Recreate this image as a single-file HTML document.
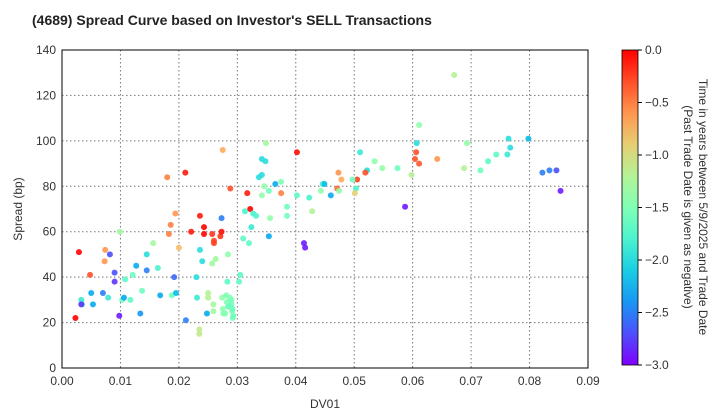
<!DOCTYPE html>
<html><head><meta charset="utf-8">
<style>
body{margin:0;background:#fff;}
svg{display:block;font-family:"Liberation Sans",Arial,sans-serif;}
</style></head>
<body>
<svg id="chart" width="720" height="420" viewBox="0 0 720 420" xmlns="http://www.w3.org/2000/svg">
<defs>
<linearGradient id="cbgrad" x1="0" y1="1" x2="0" y2="0"></linearGradient>
</defs>
<text x="32" y="25" font-size="14" font-weight="bold" fill="#222">(4689)   Spread Curve based on Investor's SELL Transactions</text>
<g id="grid"></g>
<g id="points"></g>
<rect x="62" y="50" width="526" height="318" fill="none" stroke="#000" stroke-width="1"/>
<g id="xticks"></g>
<g id="yticks"></g>
<text x="325" y="408" font-size="12" text-anchor="middle" fill="#333">DV01</text>
<text transform="translate(22,209) rotate(-90)" font-size="12" text-anchor="middle" fill="#333">Spread (bp)</text>
<rect x="622" y="50" width="16" height="315" fill="url(#cbgrad)" stroke="#000" stroke-width="0.8"/>
<g id="cbticks"></g>
<text transform="translate(699,207) rotate(90)" font-size="12" text-anchor="middle" fill="#333">Time in years between 5/9/2025 and Trade Date</text>
<text transform="translate(684,207) rotate(90)" font-size="12" text-anchor="middle" fill="#333">(Past Trade Date is given as negative)</text>
</svg>
<script>
const xTicks=[0,0.01,0.02,0.03,0.04,0.05,0.06,0.07,0.08,0.09];
const xTickLabels=["0.00","0.01","0.02","0.03","0.04","0.05","0.06","0.07","0.08","0.09"];
const yTicks=[0,20,40,60,80,100,120,140];
const cbTicks=[0,-0.5,-1,-1.5,-2,-2.5,-3];
const cbTickLabels=["0.0","\u22120.5","\u22121.0","\u22121.5","\u22122.0","\u22122.5","\u22123.0"];
const dv01=[0.0029,0.0023,0.0048,0.0033,0.0034,0.0033,0.005,0.0053,0.0074,0.0073,0.0082,0.007,0.0079,0.009,0.009,0.0098,0.0099,0.0108,0.0121,0.0103,0.0106,0.0117,0.0137,0.0134,0.0127,0.0145,0.0145,0.0156,0.0164,0.0168,0.018,0.0183,0.0186,0.0194,0.0192,0.0188,0.0195,0.02,0.0211,0.0212,0.0221,0.0236,0.0243,0.0243,0.0236,0.024,0.023,0.0231,0.0248,0.0235,0.0235,0.0257,0.026,0.026,0.0271,0.0273,0.0273,0.0263,0.0257,0.0284,0.0288,0.0275,0.0317,0.0322,0.0313,0.0327,0.0332,0.0324,0.031,0.032,0.0305,0.0303,0.0283,0.025,0.025,0.0259,0.0259,0.0274,0.0275,0.0276,0.0281,0.0282,0.0284,0.029,0.0291,0.0292,0.029,0.0293,0.0287,0.0279,0.0285,0.0292,0.0671,0.0611,0.0607,0.0606,0.0604,0.0611,0.0642,0.0598,0.0587,0.0693,0.0688,0.0716,0.0729,0.0743,0.0764,0.0767,0.0762,0.0798,0.0822,0.0834,0.0846,0.0853,0.051,0.0535,0.0548,0.0574,0.0522,0.0519,0.0505,0.0497,0.0503,0.0501,0.0473,0.0478,0.0471,0.0474,0.0443,0.0446,0.0449,0.046,0.0423,0.0428,0.0402,0.0402,0.0385,0.0385,0.0414,0.0416,0.0349,0.0342,0.0348,0.0342,0.0337,0.0365,0.0375,0.0346,0.0342,0.0354,0.0375,0.0356,0.0354];
const spread=[51,22,41,30,28,28,33,28,52,47,50,33,31,42,38,23,60,39,41,30,31,30,34,24,45,43,50,55,44,32,84,59,63,68,40,32,33,53,86,21,60,67,62,59,52,47,40,31,24,17,15,59,56,55,58,60,66,48,46,50,79,96,77,70,69,68,67,62,57,55,41,38,38,33,31,28,25,31,26,24,32,29,27,30,25,22,28,23,31,24,27,26,129,107,99,95,92,90,92,85,71,99,88,87,91,94,101,97,94,101,86,87,87,78,95,91,88,88,87,86,83,83,79,77,86,83,79,78,78,81,81,76,75,69,76,95,71,67,55,53,99,92,91,85,84,81,82,80,76,78,77,66,58];
const tyears=[0,0,-0.3,-1.9,-2.0,-2.8,-2.3,-2.3,-0.6,-0.6,-2.7,-2.5,-1.9,-2.7,-2.8,-2.9,-1.3,-1.7,-1.6,-1.6,-2.3,-1.7,-1.6,-2.4,-2.3,-2.5,-2.0,-1.3,-1.8,-2.3,-0.5,-0.5,-0.5,-0.6,-2.6,-1.6,-2.2,-0.8,-0.1,-2.5,-0.1,-0.1,0,0,-2.0,-2.0,-2.0,-1.9,-2.3,-1.1,-1.1,-0.2,-0.25,-0.25,-0.2,-0.05,-2.5,-1.3,-1.3,-1.4,-0.3,-0.7,-0.1,0,-1.8,-1.8,-1.8,-1.9,-1.7,-1.7,-1.7,-1.7,-1.7,-1.2,-1.2,-1.3,-1.3,-1.4,-1.4,-1.45,-1.5,-1.5,-1.5,-1.55,-1.5,-1.55,-1.6,-1.6,-1.5,-1.5,-1.6,-1.6,-1.2,-1.4,-2.0,-0.3,-0.3,-0.35,-0.6,-1.2,-2.9,-1.4,-1.2,-1.6,-1.7,-1.7,-2.0,-2.0,-1.9,-2.2,-2.5,-2.5,-2.7,-2.9,-1.9,-1.4,-1.4,-1.6,-2.0,-0.3,-0.25,-1.6,-1.8,-0.9,-0.6,-0.7,-0.4,-1.4,-1.4,-1.8,-2.2,-2.3,-1.8,-1.2,-1.7,-0.05,-1.6,-1.6,-2.9,-2.9,-1.3,-2.0,-2.0,-2.0,-2.0,-2.3,-1.5,-1.4,-1.4,-1.6,-0.5,-1.4,-2.3];
const X0=62,X1=588,Y0=368,Y1=50;
function xs(v){return X0+(v-0)/(0.09-0)*(X1-X0);}
function ys(v){return Y0-(v-0)/(140-0)*(Y0-Y1);}
const CB0=365,CB1=50;
function cs(v){return CB0-(v+3)/3*(CB0-CB1);}
function rainbow(t){
  const x=(t+3)/3;
  const cl=v=>Math.max(0,Math.min(1,v));
  const r=cl(Math.abs(2*x-0.5)),g=cl(Math.sin(Math.PI*x)),b=cl(Math.cos(Math.PI*x/2));
  return `rgb(${Math.round(r*255)},${Math.round(g*255)},${Math.round(b*255)})`;
}
const NS="http://www.w3.org/2000/svg";
function mk(tag,attrs,parent){const e=document.createElementNS(NS,tag);for(const k in attrs)e.setAttribute(k,attrs[k]);parent.appendChild(e);return e;}
const grid=document.getElementById('grid'),xt=document.getElementById('xticks'),yt=document.getElementById('yticks');
xTicks.forEach((v,i)=>{
  const x=xs(v);
  if(i>0&&i<xTicks.length-1){const l=mk('line',{x1:x,x2:x,y1:Y1,y2:Y0,stroke:'#777','stroke-width':1,'stroke-dasharray':'1.5,2.5'},grid);
  
  }
  const t=mk('text',{x:x,y:Y0+17,'font-size':12,'text-anchor':'middle',fill:'#333'},xt);
  t.textContent=xTickLabels[i];
  
  
});
yTicks.forEach((v,i)=>{
  const y=ys(v);
  if(i>0&&i<yTicks.length-1){const l=mk('line',{x1:X0,x2:X1,y1:y,y2:y,stroke:'#777','stroke-width':1,'stroke-dasharray':'1.5,2.5'},grid);
  
  }
  const t=mk('text',{x:X0-6,y:y+4,'font-size':12,'text-anchor':'end',fill:'#333'},yt);
  t.textContent=String(v);
  
  
});
const pts=document.getElementById('points');
dv01.forEach((d,i)=>{
  const c=mk('circle',{cx:xs(d),cy:ys(spread[i]),r:3,fill:rainbow(tyears[i]),'fill-opacity':0.9},pts);
  
  
});
const grad=document.getElementById('cbgrad');
for(let k=0;k<=10;k++){const t=-3+k*0.3;mk('stop',{offset:(k*10)+'%','stop-color':rainbow(t)},grad);}
const cbt=document.getElementById('cbticks');
cbTicks.forEach((v,i)=>{
  const y=cs(v);
  mk('line',{x1:638,x2:642,y1:y,y2:y,stroke:'#000'},cbt);
  const t=mk('text',{x:645,y:y+4,'font-size':12,fill:'#333'},cbt);
  t.textContent=cbTickLabels[i];
  
  
});
</script>
</body></html>
